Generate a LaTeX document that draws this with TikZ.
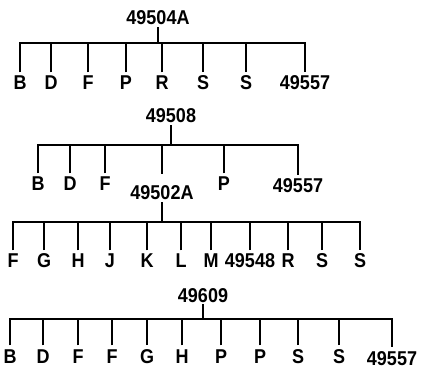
\documentclass[tikz,border=0pt]{standalone}
\usepackage{fontspec}
\newfontfamily\lblfont[FakeStretch=0.9]{Liberation Sans}
\begin{document}
\begin{tikzpicture}[x=1pt,y=-1pt,
  every node/.style={font=\lblfont\fontsize{20}{22}\selectfont\bfseries},
  lab/.style={anchor=base,inner xsep=1pt,inner ysep=3.7pt},
  ttl/.style={anchor=base,inner sep=2pt},
  ln/.style={line width=1.9pt,line join=miter,line cap=butt}]
\useasboundingbox (0,0) rectangle (428,379);
% ---------- tree 1 ----------
\node[ttl] (t1) at (158,25) {49504A};
\foreach \x/\t [count=\i] in {20/B,51/D,88/F,126/P,162/R,203/S,246/S,305/49557}
  \node[lab] (a\i) at (\x,90) {\t};
\coordinate (b1) at (0,43);
\draw[ln] (t1.south) -- (t1.south |- b1);
\draw[ln] (a1.north) -- (a1.north |- b1) -- (a8.north |- b1) -- (a8.north);
\foreach \i in {2,...,7} \draw[ln] (a\i.north) -- (a\i.north |- b1);
% ---------- tree 3 title (child of tree 2) ----------
\node[ttl] (t3) at (162,200) {49502A};
% ---------- tree 2 ----------
\node[ttl] (t2) at (171,123) {49508};
\foreach \x/\t [count=\i] in {38/B,70/D,105/F,224/P}
  \node[lab] (c\i) at (\x,191) {\t};
\node[lab] (c5) at (298,193) {49557};
\coordinate (b2) at (0,145);
\draw[ln] (t2.south) -- (t2.south |- b2);
\draw[ln] (c1.north) -- (c1.north |- b2) -- (c5.north |- b2) -- (c5.north);
\foreach \i in {2,3,4} \draw[ln] (c\i.north) -- (c\i.north |- b2);
\draw[ln,shorten >=10pt] (t3.north |- b2) -- (t3.north);
% ---------- tree 3 ----------
\foreach \x/\t [count=\i] in {13/F,44/G,78/H,110/J,147/K,181/L,211/M,250/49548,288/R,322/S,360/S}
  \node[lab] (d\i) at (\x,268) {\t};
\coordinate (b3) at (0,222);
\draw[ln] (t3.south) -- (t3.south |- b3);
\draw[ln] (d1.north) -- (d1.north |- b3) -- (d11.north |- b3) -- (d11.north);
\foreach \i in {2,...,10} \draw[ln] (d\i.north) -- (d\i.north |- b3);
% ---------- tree 4 ----------
\node[ttl] (t4) at (203,302) {49609};
\foreach \x/\t [count=\i] in {10/B,43/D,78/F,112/F,147/G,182/H,221/P,260/P,298/S,339/S}
  \node[lab] (e\i) at (\x,363) {\t};
\node[lab] (e11) at (392,365) {49557};
\coordinate (b4) at (0,319);
\draw[ln] (t4.south) -- (t4.south |- b4);
\draw[ln] (e1.north) -- (e1.north |- b4) -- (e11.north |- b4) -- (e11.north);
\foreach \i in {2,...,10} \draw[ln] (e\i.north) -- (e\i.north |- b4);
\end{tikzpicture}
\end{document}
